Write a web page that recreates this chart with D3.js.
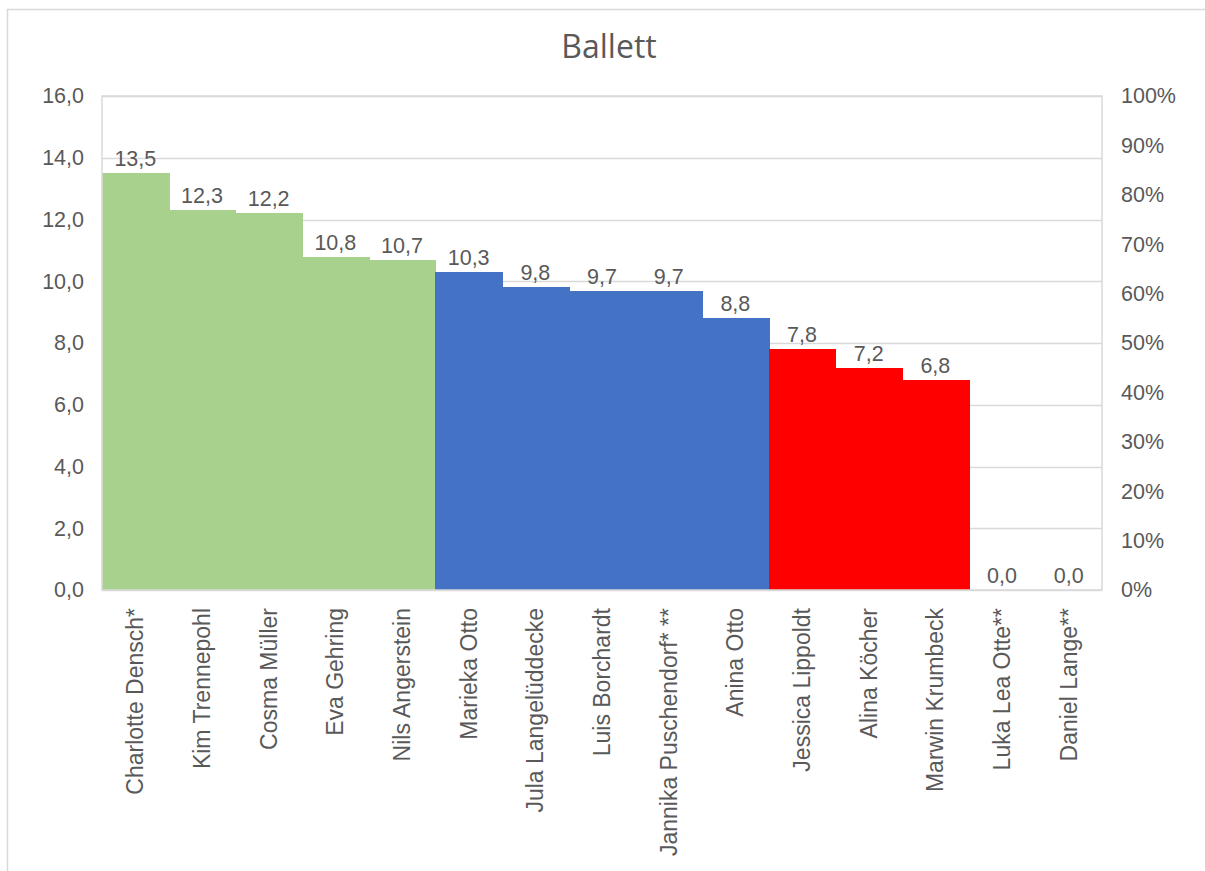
<!DOCTYPE html>
<html>
<head>
<meta charset="utf-8">
<script src="https://cdn.jsdelivr.net/npm/d3@7"></script>
<style>
  html, body { margin: 0; padding: 0; background: #fff; }
  svg { display: block; }
  text { fill: #595959; }
</style>
</head>
<body>
<svg id="chart" width="1205" height="871"></svg>
<script>
const title = "Ballett";
const names = ["Charlotte Densch*", "Kim Trennepohl", "Cosma Müller", "Eva Gehring", "Nils Angerstein",
  "Marieka Otto", "Jula Langelüddecke", "Luis Borchardt", "Jannika Puschendorf* **", "Anina Otto",
  "Jessica Lippoldt", "Alina Köcher", "Marwin Krumbeck", "Luka Lea Otte**", "Daniel Lange**"];
const values = [13.5, 12.3, 12.2, 10.8, 10.7, 10.3, 9.8, 9.7, 9.7, 8.8, 7.8, 7.2, 6.8, 0.0, 0.0];
const groups = ["top", "top", "top", "top", "top", "mid", "mid", "mid", "mid", "mid", "low", "low", "low", "low", "low"];
const groupColors = { top: "#A9D18E", mid: "#4472C4", low: "#FF0000" };
const leftTicks = [0, 2, 4, 6, 8, 10, 12, 14, 16];
const rightTicks = [0, 0.1, 0.2, 0.3, 0.4, 0.5, 0.6, 0.7, 0.8, 0.9, 1.0];

const svg = d3.select("#chart");
const m = { left: 102, right: 1102, top: 96, bottom: 590 };
const font = "'Liberation Sans', Arial, sans-serif";

// outer chart border
svg.append("rect").attr("x", 7.5).attr("y", 9.5).attr("width", 1220).attr("height", 900)
  .attr("fill", "#fff").attr("stroke", "#d9d9d9").attr("stroke-width", 1.5);

const x = d3.scaleBand().domain(names).range([m.left, m.right]).padding(0);
const y = d3.scaleLinear().domain([0, 16]).range([m.bottom, m.top]);
const y2 = d3.scaleLinear().domain([0, 1]).range([m.bottom, m.top]);

const fmt = v => d3.format(".1f")(v).replace(".", ",");

// gridlines
svg.append("g").selectAll("line").data(leftTicks).join("line")
  .attr("x1", m.left).attr("x2", m.right)
  .attr("y1", d => Math.round(y(d)) + 0.5).attr("y2", d => Math.round(y(d)) + 0.5)
  .attr("stroke", "#d9d9d9").attr("stroke-width", 1.5);

// bars
svg.append("g").attr("shape-rendering", "crispEdges").selectAll("rect").data(names).join("rect")
  .attr("x", d => Math.round(x(d))).attr("width", d => Math.round(x(d) + x.bandwidth()) - Math.round(x(d)) + 1)
  .attr("y", (d, i) => y(values[i])).attr("height", (d, i) => y(0) - y(values[i]))
  .attr("fill", (d, i) => groupColors[groups[i]]);

// plot area border
svg.append("rect").attr("x", m.left).attr("y", m.top)
  .attr("width", m.right - m.left).attr("height", m.bottom - m.top)
  .attr("fill", "none").attr("stroke", "#d9d9d9").attr("stroke-width", 1.5);

// left axis
const leftAxis = d3.axisLeft(y).tickValues(leftTicks).tickFormat(fmt).tickSize(0).tickPadding(18);
const gl = svg.append("g").attr("transform", `translate(${m.left},0)`).call(leftAxis);
gl.select(".domain").remove();
gl.selectAll("text").attr("font-family", font).attr("font-size", 21.5).attr("fill", "#595959");

// right axis
const rightAxis = d3.axisRight(y2).tickValues(rightTicks).tickFormat(d3.format(".0%")).tickSize(0).tickPadding(19);
const gr = svg.append("g").attr("transform", `translate(${m.right},0)`).call(rightAxis);
gr.select(".domain").remove();
gr.selectAll("text").attr("font-family", font).attr("font-size", 21.5).attr("fill", "#595959");

// category labels
const xAxis = d3.axisBottom(x).tickSize(0).tickPadding(0);
const gx = svg.append("g").attr("transform", `translate(0,${m.bottom})`).call(xAxis);
gx.select(".domain").remove();
gx.selectAll("text")
  .attr("font-family", font).attr("font-size", 23).attr("fill", "#595959")
  .attr("text-anchor", "end").attr("dy", null).attr("y", 0).attr("x", 0)
  .attr("transform", "translate(8,18) rotate(-90)");

// data labels
svg.append("g").selectAll("text").data(names).join("text")
  .attr("x", d => x(d) + x.bandwidth() / 2)
  .attr("y", (d, i) => y(values[i]) - 7)
  .attr("text-anchor", "middle")
  .attr("font-family", font).attr("font-size", 21.5).attr("fill", "#595959")
  .text((d, i) => fmt(values[i]));

// title
svg.append("text").attr("x", 609).attr("y", 58).attr("text-anchor", "middle")
  .attr("font-family", "'Open Sans', sans-serif").attr("font-size", 32).attr("fill", "#595959")
  .text(title);
</script>
</body>
</html>
